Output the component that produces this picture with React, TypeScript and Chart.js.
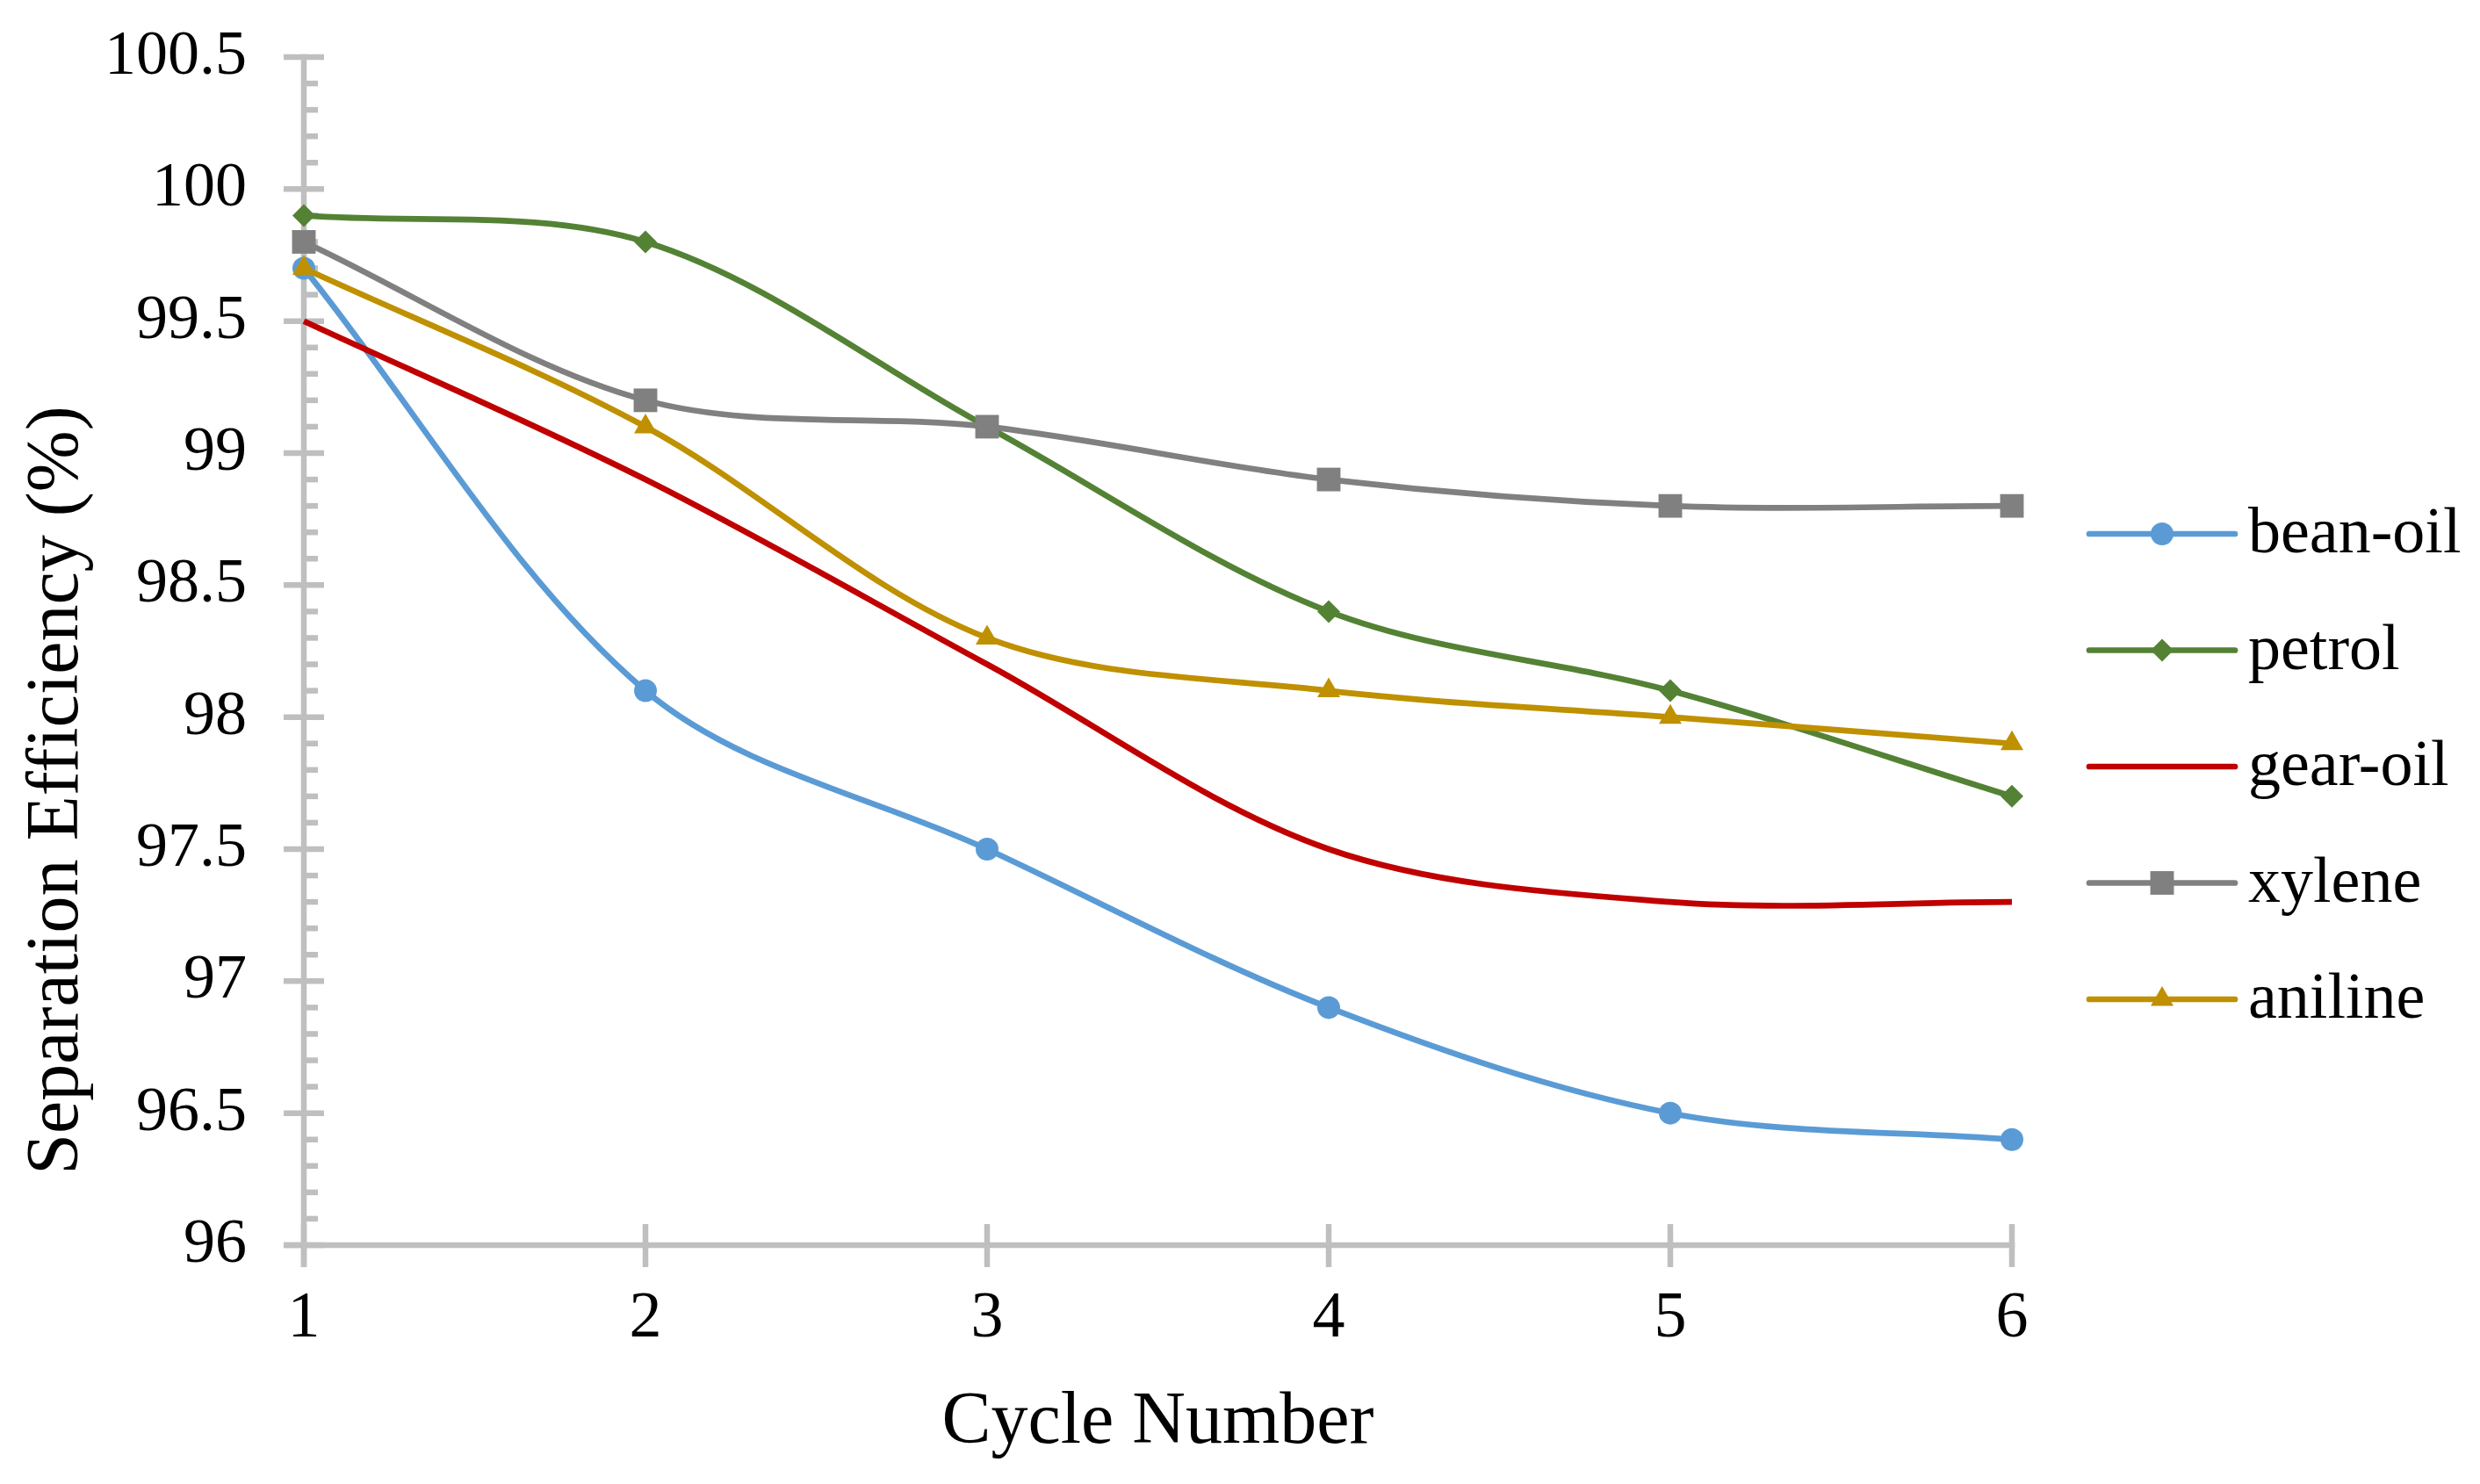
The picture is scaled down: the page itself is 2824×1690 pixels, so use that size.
import React, { useEffect, useRef } from 'react';
import { Chart, registerables } from 'chart.js';

Chart.register(...registerables);

// ---- data ----
const cycles = ['1', '2', '3', '4', '5', '6'];
const seriesNames = ['bean-oil', 'petrol', 'gear-oil', 'xylene', 'aniline'];
const beanOil = [99.7, 98.1, 97.5, 96.9, 96.5, 96.4];
const petrol = [99.9, 99.8, 99.1, 98.4, 98.1, 97.7];
const gearOil = [99.5, 98.9, 98.2, 97.5, 97.3, 97.3];
const xylene = [99.8, 99.2, 99.1, 98.9, 98.8, 98.8];
const aniline = [99.7, 99.1, 98.3, 98.1, 98.0, 97.9];
const yMin = 96;
const yMax = 100.5;
const yStep = 0.5;
const yMinorStep = 0.1;
const xTitle = 'Cycle Number';
const yTitle = 'Separation Efficiency (%)';

// ---- styles ----
const FONT = "'Liberation Serif', 'Times New Roman', serif";
const AXIS_COLOR = '#BFBFBF';
const AXIS_W = 6.5;
const LINE_W = 6.7;
const styles = [
  { color: '#5B9BD5', pointStyle: 'circle', radius: 13 },
  { color: '#548235', pointStyle: 'rectRot', radius: 13 },
  { color: '#C00000', pointStyle: false as any, radius: 0 },
  { color: '#808080', pointStyle: 'rect', radius: 19 },
  { color: '#BF9000', pointStyle: 'triangle', radius: 15 },
];
const seriesValues = [beanOil, petrol, gearOil, xylene, aniline];

function strokeLine(ctx: CanvasRenderingContext2D, x1: number, y1: number, x2: number, y2: number) {
  ctx.beginPath();
  ctx.moveTo(x1, y1);
  ctx.lineTo(x2, y2);
  ctx.stroke();
}

const axesPlugin = {
  id: 'excelAxes',
  beforeDatasetsDraw(chart: any) {
    const { ctx } = chart;
    const x = chart.scales.x;
    const y = chart.scales.y;
    const x0 = x.getPixelForValue(0);
    const xN = x.getPixelForValue(cycles.length - 1);
    const yB = y.getPixelForValue(yMin);
    const yT = y.getPixelForValue(yMax);
    ctx.save();
    ctx.strokeStyle = AXIS_COLOR;
    ctx.lineWidth = AXIS_W;
    ctx.lineCap = 'butt';
    // y axis line
    strokeLine(ctx, x0, yT - AXIS_W / 2, x0, yB + 25);
    // x axis line
    strokeLine(ctx, x0 - 23, yB, xN + AXIS_W / 2, yB);
    // y major ticks (cross)
    const nMaj = Math.round((yMax - yMin) / yStep);
    for (let i = 0; i <= nMaj; i++) {
      const py = y.getPixelForValue(yMin + i * yStep);
      strokeLine(ctx, x0 - 23, py, x0 + 23, py);
    }
    // y minor ticks (inside)
    const nMin = Math.round((yMax - yMin) / yMinorStep);
    const per = Math.round(yStep / yMinorStep);
    for (let i = 0; i <= nMin; i++) {
      if (i % per === 0) continue;
      const py = y.getPixelForValue(yMin + i * yMinorStep);
      strokeLine(ctx, x0, py, x0 + 16, py);
    }
    // x ticks (cross)
    for (let i = 0; i < cycles.length; i++) {
      const px = x.getPixelForValue(i);
      strokeLine(ctx, px, yB - 24, px, yB + 25);
    }
    ctx.restore();
  },
};

function drawMarker(ctx: CanvasRenderingContext2D, style: string, r: number, cx: number, cy: number, color: string) {
  ctx.fillStyle = color;
  ctx.beginPath();
  if (style === 'circle') {
    ctx.arc(cx, cy, r, 0, Math.PI * 2);
  } else if (style === 'rectRot') {
    ctx.moveTo(cx - r, cy);
    ctx.lineTo(cx, cy - r);
    ctx.lineTo(cx + r, cy);
    ctx.lineTo(cx, cy + r);
    ctx.closePath();
  } else if (style === 'rect') {
    const s = Math.SQRT1_2 * r;
    ctx.rect(cx - s, cy - s, 2 * s, 2 * s);
  } else if (style === 'triangle') {
    for (let k = 0; k < 3; k++) {
      const a = (k * 2 * Math.PI) / 3;
      const px = cx + Math.sin(a) * r;
      const py = cy - Math.cos(a) * r;
      if (k === 0) ctx.moveTo(px, py);
      else ctx.lineTo(px, py);
    }
    ctx.closePath();
  } else {
    return;
  }
  ctx.fill();
}

const legendPlugin = {
  id: 'excelLegend',
  afterDraw(chart: any) {
    const { ctx } = chart;
    const lx1 = 2379;
    const lx2 = 2545;
    const tx = 2560;
    const y0 = 608;
    const gap = 132.5;
    ctx.save();
    chart.data.datasets.forEach((ds: any, i: number) => {
      const st = styles[i];
      const yc = y0 + i * gap;
      ctx.strokeStyle = st.color;
      ctx.lineWidth = LINE_W;
      ctx.lineCap = 'round';
      strokeLine(ctx, lx1, yc, lx2, yc);
      if (st.pointStyle) drawMarker(ctx, st.pointStyle, st.radius, (lx1 + lx2) / 2, yc, st.color);
      ctx.fillStyle = '#000';
      ctx.font = `74px ${FONT}`;
      ctx.textAlign = 'left';
      ctx.textBaseline = 'alphabetic';
      ctx.fillText(ds.label, tx, yc + 21);
    });
    // y axis title
    ctx.translate(88, 900);
    ctx.rotate(-Math.PI / 2);
    ctx.font = `84px ${FONT}`;
    ctx.fillStyle = '#000';
    ctx.textAlign = 'center';
    ctx.textBaseline = 'alphabetic';
    ctx.fillText(yTitle, 0, 0);
    ctx.restore();
  },
};

export default function App() {
  const ref = useRef<HTMLCanvasElement | null>(null);
  useEffect(() => {
    if (!ref.current) return;
    Chart.defaults.font.family = FONT;
    const chart = new Chart(ref.current, {
      type: 'line',
      data: {
        labels: cycles,
        datasets: seriesNames.map((name, i) => ({
          label: name,
          data: seriesValues[i],
          borderColor: styles[i].color,
          backgroundColor: styles[i].color,
          borderWidth: LINE_W,
          pointStyle: styles[i].pointStyle,
          pointRadius: styles[i].radius,
          pointHoverRadius: styles[i].radius,
          pointBorderWidth: 0,
          pointBackgroundColor: styles[i].color,
          pointBorderColor: styles[i].color,
          tension: 0.33,
          fill: false,
          order: seriesNames.length - i,
        })),
      },
      options: {
        animation: false,
        responsive: false,
        devicePixelRatio: 1,
        layout: { padding: { left: 0, right: 533, top: 65, bottom: 0 } },
        plugins: {
          legend: { display: false },
          tooltip: { enabled: false },
        },
        events: [],
        scales: {
          x: {
            type: 'category',
            offset: false,
            grid: { display: false, drawTicks: false },
            border: { display: false },
            ticks: {
              color: '#000',
              font: { family: FONT, size: 74 },
              padding: 40,
              maxRotation: 0,
              autoSkip: false,
            },
            title: {
              display: true,
              text: xTitle,
              color: '#000',
              font: { family: FONT, size: 84 },
              padding: { top: 0, bottom: 19 },
            },
            afterFit: (s: any) => {
              s.height = 272;
            },
          },
          y: {
            type: 'linear',
            min: yMin,
            max: yMax,
            grid: { display: false, drawTicks: true, tickLength: 65 },
            border: { display: false },
            ticks: {
              stepSize: yStep,
              color: '#000',
              font: { family: FONT, size: 72 },
              padding: 0,
              callback: (v: any) => String(Math.round(Number(v) * 10) / 10),
            },
            afterFit: (s: any) => {
              s.width = 346;
            },
          },
        },
      },
      plugins: [axesPlugin, legendPlugin],
    } as any);
    return () => chart.destroy();
  }, []);
  return (
    <div style={{ position: 'absolute', left: 0, top: 0, width: 2824, height: 1690, background: '#fff' }}>
      <canvas ref={ref} width={2824} height={1690} style={{ display: 'block' }} />
    </div>
  );
}
